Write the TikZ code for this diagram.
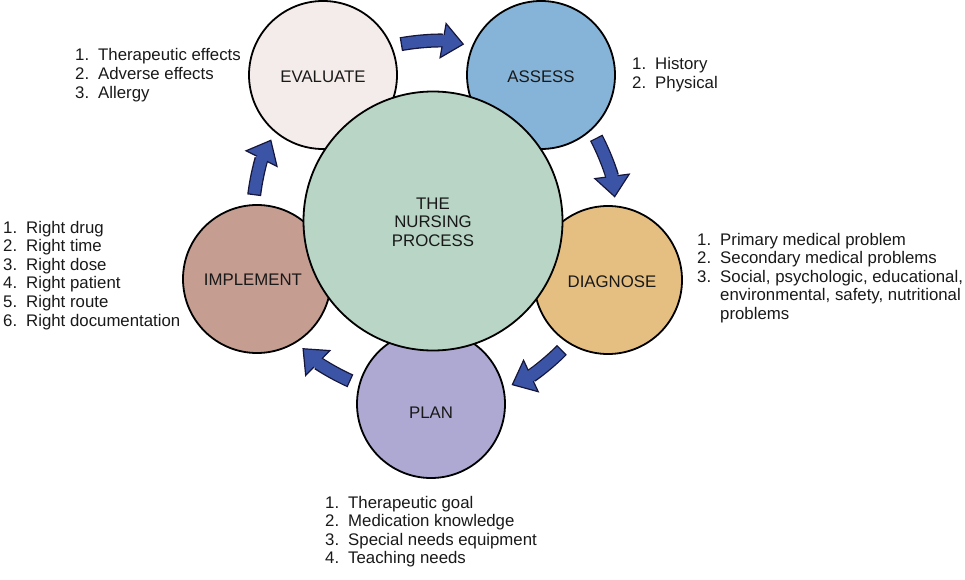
\documentclass[tikz,border=0pt]{standalone}
\usepackage{fontspec}
\setmainfont{Liberation Sans}
\usetikzlibrary{arrows.meta}
\definecolor{cEval}{HTML}{F4ECEA}
\definecolor{cAssess}{HTML}{86B4D8}
\definecolor{cCore}{HTML}{B8D5C5}
\definecolor{cDiag}{HTML}{E5BF82}
\definecolor{cPlan}{HTML}{ADA9D3}
\definecolor{cImpl}{HTML}{C59D91}
\definecolor{cArrow}{HTML}{3B54A5}
\definecolor{cArrowLine}{HTML}{15163A}
\tikzset{
  txt/.style={font=\fontsize{16.8}{18.6}\selectfont, inner sep=0pt, text=black!90},
  phase/.style={circle, draw=black, line width=1.8pt, minimum size=148pt, inner sep=0pt},
  core/.style={circle, draw=black, line width=1.8pt, minimum size=259pt, inner sep=0pt, fill=cCore},
  listnode/.style={txt, anchor=base west, align=left},
  flowout/.style={draw=cArrowLine, line width=14pt, shorten <=9pt, shorten >=8pt,
    -{Triangle[width=37pt, length=22pt, line width=1.2pt, fill=cArrow]}},
  flowin/.style={draw=cArrow, line width=11.4pt, shorten <=10.3pt, shorten >=28pt},
}
\newcommand{\numlist}[1]{\begin{tabular}[t]{@{}l@{\hspace{9pt}}l@{}}#1\end{tabular}}
\begin{document}
\begin{tikzpicture}[x=1pt, y=-1pt]
\useasboundingbox (0,0) rectangle (965,580);
% phase circles
\node[phase, fill=cEval]   (ev) at (323,75)  {};
\node[phase, fill=cAssess] (as) at (541,75)  {};
\node[phase, fill=cDiag]   (dg) at (608,280) {};
\node[phase, fill=cPlan]   (pl) at (431,404) {};
\node[phase, fill=cImpl]   (im) at (257,279) {};
% core
\node[core] (np) at (433,221) {};
\node[txt, align=center] (npt) at (433,222) {THE\\NURSING\\PROCESS};
% labels
\node[txt] (evt) at (323,77)  {EVALUATE};
\node[txt] (ast) at (541,77)  {ASSESS};
\node[txt] (dgt) at (612,282) {DIAGNOSE};
\node[txt] (plt) at (431,413) {PLAN};
\node[txt] (imt) at (253,280) {IMPLEMENT};
% arrows
\foreach \a/\b in {ev.23/as.157, as.-47/dg.84, dg.-122/pl.12, pl.165/im.-58, im.93/ev.-130}{
  \draw[flowout] (\a) to[bend left=10] (\b);
  \draw[flowin]  (\a) to[bend left=10] (\b);
}
% lists
\node[listnode] (evl) at (75,61) {\numlist{1.&Therapeutic effects\\2.&Adverse effects\\3.&Allergy}};
\node[listnode] (asl) at (632,70) {\numlist{1.&History\\2.&Physical}};
\node[listnode] (dgl) at (697,245) {\numlist{1.&Primary medical problem\\2.&Secondary medical problems\\3.&Social, psychologic, educational,\\&environmental, safety, nutritional\\&problems}};
\node[listnode] (pll) at (325,508) {\numlist{1.&Therapeutic goal\\2.&Medication knowledge\\3.&Special needs equipment\\4.&Teaching needs}};
\node[listnode] (iml) at (3,233) {\numlist{1.&Right drug\\2.&Right time\\3.&Right dose\\4.&Right patient\\5.&Right route\\6.&Right documentation}};
\end{tikzpicture}
\end{document}
